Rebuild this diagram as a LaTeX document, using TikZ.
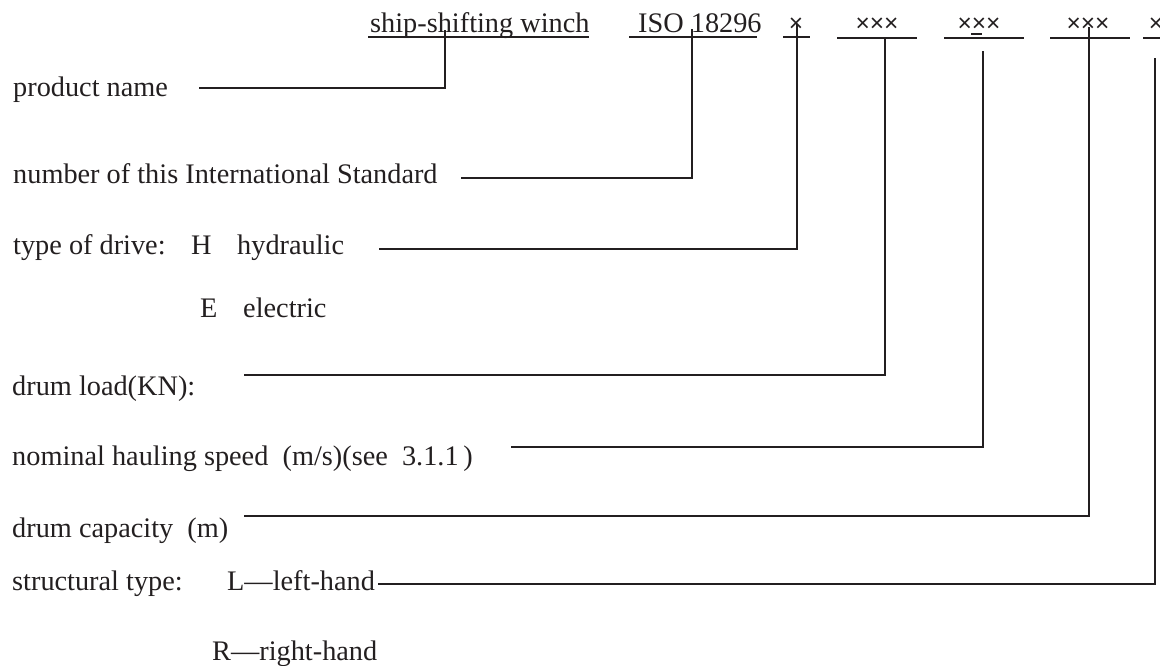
\documentclass[tikz,border=0pt]{standalone}
\usepackage{fontspec}
\setmainfont{Liberation Serif}
\newfontfamily\xfont{Liberation Sans}
\definecolor{ink}{HTML}{231F20}
\begin{document}
\begin{tikzpicture}[x=1pt,y=-1pt,
  txt/.style={anchor=base west,inner sep=0pt,text=ink,font=\fontsize{28.3}{34}\selectfont},
  xx/.style={anchor=center,inner sep=0pt,text=ink,font=\xfont\fontsize{24.5}{28}\selectfont},
  lead/.style={draw=ink,line width=2pt},
  ul/.style={draw=ink,line width=1.8pt}]
\useasboundingbox (0,0) rectangle (1160,666);
% top code line
\node[txt] (ship) at (370,33) {ship-shifting winch};
\node[txt] (iso) at (638,33) {ISO 18296};
\node[xx] (x1) at (796,25) {×};
\node[xx] (x2) at (877,25) {×××};
\node[xx] (x3) at (979,25) {×××};
\node[xx] (x4) at (1088,25) {×××};
\node[xx] (x5) at (1156,25) {×};
\draw[ul] (368,37) -- (589,37);
\draw[ul] (629,37) -- (757,37);
\draw[ul] (783,37) -- (810,37);
\draw[ul] (837,38) -- (917,38);
\draw[ul] (944,38) -- (1024,38);
\draw[ul] (971,34) -- (982,34);
\draw[ul] (1050,38) -- (1130,38);
\draw[ul] (1143,38) -- (1175,38);
% labels
\node[txt] (pn) at (13,97) {product name};
\node[txt] (num) at (13,183) {number of this International Standard};
\node[txt] (drv) at (13,254) {type of drive:};
\node[txt] (drvH) at (191,254) {H};
\node[txt] (drvh) at (237,254) {hydraulic};
\node[txt] (drvE) at (200,317) {E};
\node[txt] (drve) at (243,317) {electric};
\node[txt] (load) at (12,395) {drum load(KN):};
\node[txt] (spd) at (12,465) {nominal hauling speed~~(m/s)(see~~3.1.1\,)};
\node[txt] (cap) at (12,537) {drum capacity~~(m)};
\node[txt] (str) at (12,590) {structural type:};
\node[txt] (strL) at (227,590) {L—left-hand};
\node[txt] (strR) at (212,660) {R—right-hand};
% leader ends
\coordinate (a1) at (199,88);  \coordinate (b1) at (445,30);
\coordinate (a2) at (461,178); \coordinate (b2) at (692,29);
\coordinate (a3) at (379,249); \coordinate (b3) at (797,24);
\coordinate (a4) at (244,375); \coordinate (b4) at (885,38);
\coordinate (a5) at (511,447); \coordinate (b5) at (983,51);
\coordinate (a6) at (244,516); \coordinate (b6) at (1089,27);
\coordinate (a7) at (378,584); \coordinate (b7) at (1155,58);
\draw[lead] (a1) -| (b1);
\draw[lead] (a2) -| (b2);
\draw[lead] (a3) -| (b3);
\draw[lead] (a4) -| (b4);
\draw[lead] (a5) -| (b5);
\draw[lead] (a6) -| (b6);
\draw[lead] (a7) -| (b7);
\end{tikzpicture}
\end{document}
